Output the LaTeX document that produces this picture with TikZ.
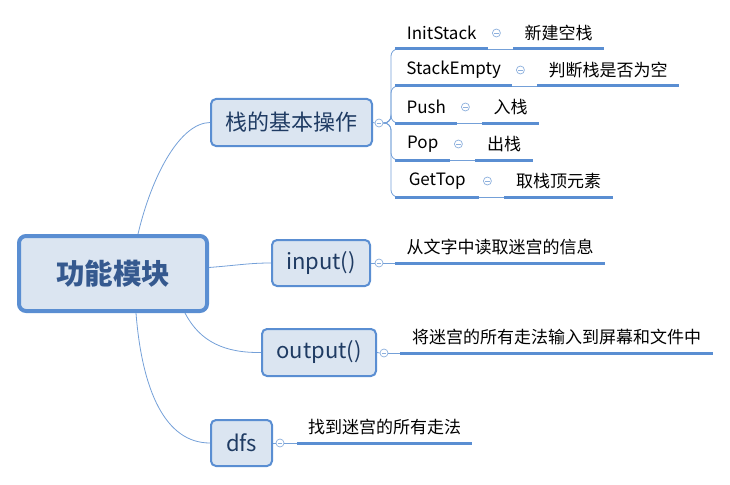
\documentclass[tikz,border=0pt]{standalone}
\usepackage{fontspec}
\setmainfont{Noto Sans CJK SC}
\usetikzlibrary{positioning}

\definecolor{boxline}{HTML}{5A8ED2}
\definecolor{boxfill}{HTML}{DBE5F1}
\definecolor{boxtext}{HTML}{1F3B63}
\definecolor{maintext}{HTML}{35598F}
\definecolor{branch}{HTML}{74A0D8}
\definecolor{knobline}{HTML}{8DB0DD}

\tikzset{
	topic/.style={draw=boxline, fill=boxfill, line width=2pt, rounded corners=5pt, text=boxtext, inner sep=0pt, font=\fontsize{22}{25}\selectfont},
	maintopic/.style={topic, line width=4pt, rounded corners=7pt, text=maintext, font=\fontsize{28.5}{32}\selectfont\bfseries},
	leaf/.style={anchor=south west, minimum height=32pt, inner sep=0pt, font=\fontsize{17}{20}\selectfont},
	uline/.style={draw=boxline, line width=3pt},
	thin/.style={draw=branch, line width=0.8pt},
	collapse/.style={circle, draw=knobline, fill=white, line width=0.7pt, minimum size=8pt, inner sep=0pt,
		path picture={\draw[knobline, line width=0.7pt] ([xshift=-2.2pt]path picture bounding box.center) -- ([xshift=2.2pt]path picture bounding box.center);}}
}

\begin{document}
\begin{tikzpicture}[x=1pt, y=-1pt]
	\useasboundingbox (0,0) rectangle (730,484);
	
	% main topic and its four branches
	\node[maintopic, minimum width=188pt, minimum height=75pt] (main) at (113,273.5) {功能模块};
	\node[topic, minimum width=161pt, minimum height=47pt] (stack) at (291.5,122.5) {栈的基本操作};
	\node[topic, minimum width=98pt, minimum height=46pt] (input) at (321,263) {input()};
	\node[topic, minimum width=114pt, minimum height=47pt] (output) at (319,352.5) {output()};
	\node[topic, minimum width=61pt, minimum height=46pt] (dfs) at (241.5,443) {dfs};
	
	\draw[thin] ([xshift=25pt]main.north) .. controls (152,175) and (180,123) .. (stack.west);
	\draw[thin] ([yshift=6pt]main.east) .. controls (240,265) and (250,263) .. (input.west);
	\draw[thin] ([xshift=72pt]main.south) .. controls (200,342) and (225,353) .. (output.west);
	\draw[thin] ([xshift=23pt]main.south) .. controls (142,390) and (165,443) .. (dfs.west);
	
	\node[collapse] (kstack) at (379,123) {};
	\node[collapse] (kinput) at (379,263) {};
	\node[collapse] (koutput) at (384,353) {};
	\node[collapse] (kdfs) at (280,443) {};
	\draw[thin] (stack.east) -- (kstack.west);
	\draw[thin] (input.east) -- (kinput.west);
	\draw[thin] (output.east) -- (koutput.west);
	\draw[thin] (dfs.east) -- (kdfs.west);
	
	% stack operations
	\foreach \y/\w/\a/\v/\b [count=\i] in {49/93/InitStack/90/新建空栈, 86/117/StackEmpty/141/判断栈是否为空, 123/62/Push/56/入栈, 160/55/Pop/57/出栈, 197/84/GetTop/108/取栈顶元素}
	{
		\node[leaf, minimum width=\w pt] (op\i) at (395,\y) {\a};
		\node[leaf, minimum width=\v pt] (do\i) at ([xshift=25pt]op\i.south east) {\b};
		\node[collapse] (k\i) at ([xshift=8pt, yshift=16pt]op\i.south east) {};
		\draw[thin, rounded corners=7pt] (kstack.east) -| ([xshift=-4pt]op\i.south west) -- (op\i.south west);
		\draw[thin] (op\i.south east) -- (do\i.south west);
		\draw[uline] (op\i.south west) -- (op\i.south east);
		\draw[uline] (do\i.south west) -- (do\i.south east);
	}
	
	% single leaves
	\node[leaf, minimum width=210pt] (readmaze) at (395,263) {从文字中读取迷宫的信息};
	\node[leaf, minimum width=313pt] (writeall) at (400,353) {将迷宫的所有走法输入到屏幕和文件中};
	\node[leaf, minimum width=175pt] (allpaths) at (297,443) {找到迷宫的所有走法};
	\draw[thin] (kinput.east) -- (readmaze.south west);
	\draw[thin] (koutput.east) -- (writeall.south west);
	\draw[thin] (kdfs.east) -- (allpaths.south west);
	\foreach \n in {readmaze, writeall, allpaths}
	\draw[uline] (\n.south west) -- (\n.south east);
	
\end{tikzpicture}
\end{document}
